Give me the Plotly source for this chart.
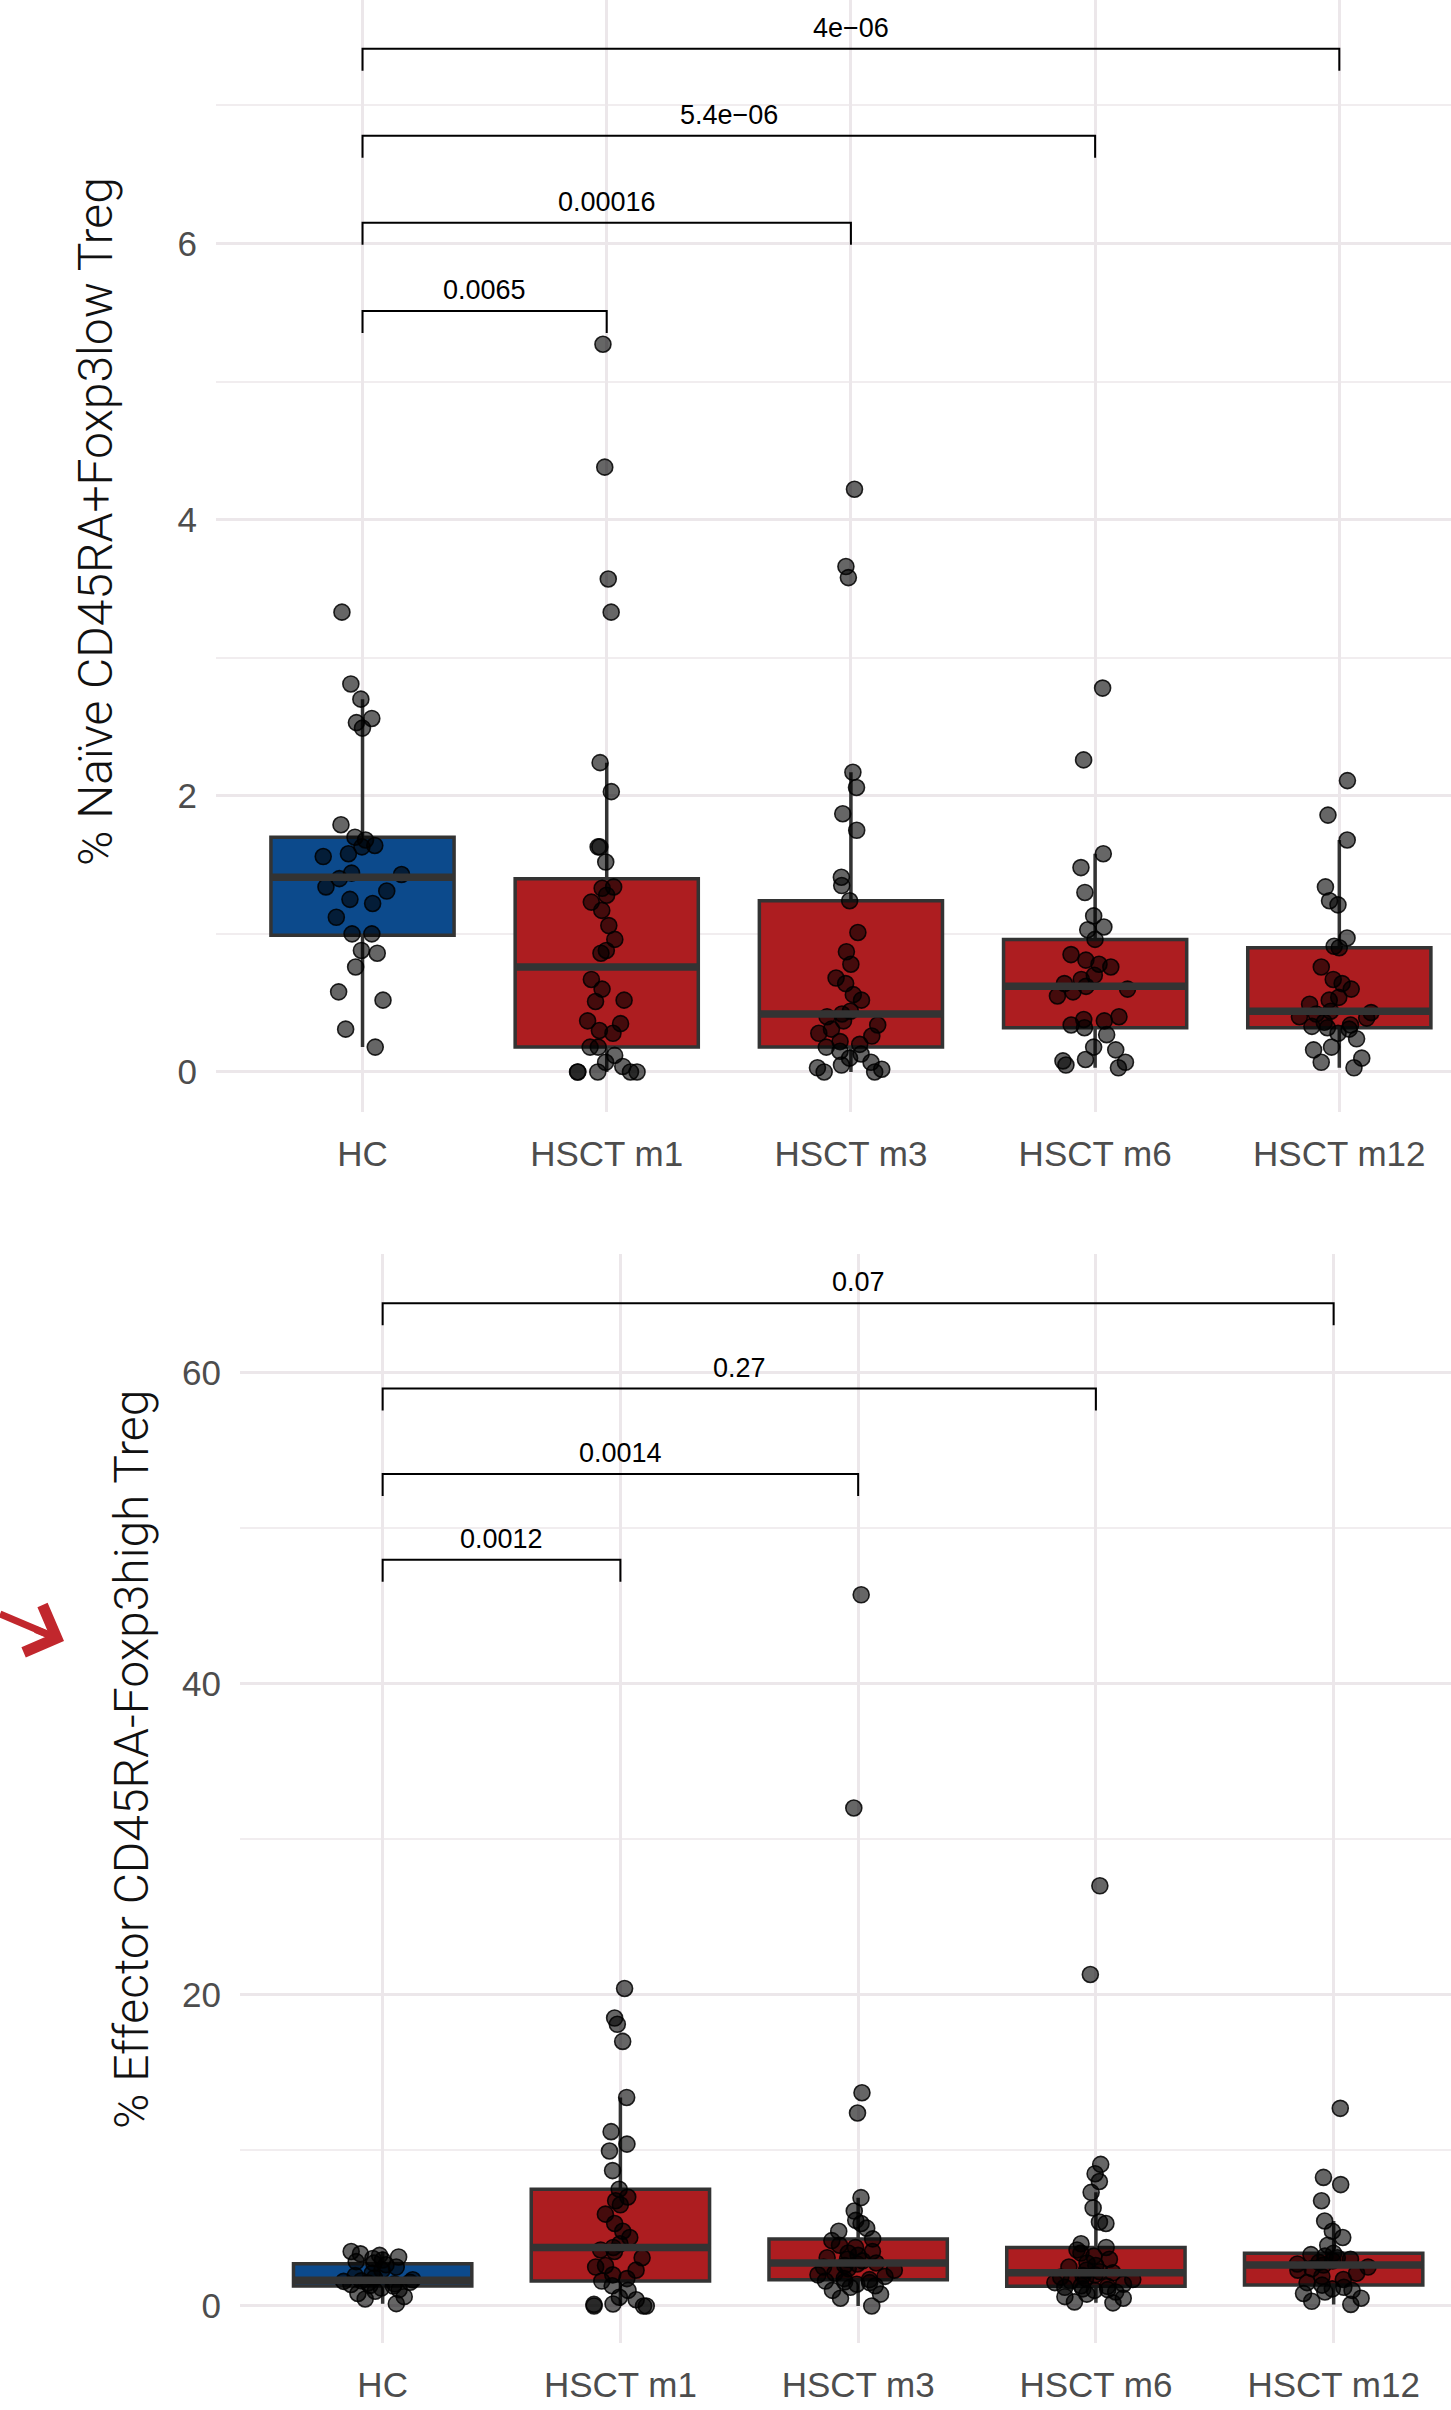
import plotly.graph_objects as go

categories = ["HC", "HSCT m1", "HSCT m3", "HSCT m6", "HSCT m12"]
group_colors = ["#0C4A8C", "#AD1D20", "#AD1D20", "#AD1D20", "#AD1D20"]

# ---------- Panel A: % Naive CD45RA+Foxp3low Treg ----------
naive_hc = [3.33, 2.81, 2.70, 2.56, 2.53, 2.49, 1.79, 1.70, 1.68, 1.64, 1.63, 1.58, 1.56, 1.44, 1.43,
            1.40, 1.34, 1.31, 1.25, 1.22, 1.12, 1.00, 1.00, 0.88, 0.86, 0.76, 0.58, 0.52, 0.31, 0.18]
naive_m1 = [5.27, 4.38, 3.57, 3.33, 2.24, 2.03, 1.63, 1.63, 1.52, 1.34, 1.33, 1.28, 1.23, 1.17, 1.06,
            0.96, 0.88, 0.86, 0.67, 0.60, 0.52, 0.51, 0.37, 0.35, 0.30, 0.28, 0.18, 0.18, 0.12, 0.07,
            0.04, 0.0, 0.0, 0.0, 0.0, 0.0]
naive_m3 = [4.22, 3.66, 3.58, 2.17, 2.06, 1.87, 1.75, 1.41, 1.35, 1.24, 1.01, 0.87, 0.78, 0.68, 0.64,
            0.56, 0.52, 0.44, 0.42, 0.40, 0.37, 0.34, 0.31, 0.28, 0.26, 0.22, 0.20, 0.18, 0.15, 0.13,
            0.10, 0.07, 0.05, 0.03, 0.02, 0.0, 0.0]
naive_m6 = [2.78, 2.26, 1.58, 1.48, 1.30, 1.13, 1.05, 1.03, 0.96, 0.85, 0.81, 0.78, 0.76, 0.70, 0.67,
            0.64, 0.62, 0.60, 0.58, 0.55, 0.40, 0.38, 0.37, 0.34, 0.32, 0.27, 0.18, 0.16, 0.09, 0.08,
            0.07, 0.05, 0.03]
naive_m12 = [2.11, 1.86, 1.68, 1.34, 1.24, 1.21, 0.97, 0.91, 0.90, 0.76, 0.67, 0.64, 0.60, 0.54, 0.52,
             0.49, 0.44, 0.43, 0.42, 0.40, 0.39, 0.36, 0.34, 0.33, 0.32, 0.31, 0.28, 0.24, 0.18, 0.16,
             0.10, 0.07, 0.03]
naive_values = [naive_hc, naive_m1, naive_m3, naive_m6, naive_m12]

naive_q1 = [0.99, 0.18, 0.18, 0.32, 0.32]
naive_median = [1.41, 0.76, 0.42, 0.62, 0.44]
naive_q3 = [1.70, 1.40, 1.24, 0.96, 0.90]
naive_lower = [0.18, 0.0, 0.0, 0.03, 0.03]
naive_upper = [2.70, 2.24, 2.17, 1.58, 1.68]

naive_pairs = [(1, 2), (1, 3), (1, 4), (1, 5)]
naive_pvals = ["0.0065", "0.00016", "5.4e\u221206", "4e\u221206"]
naive_bracket_y = [5.51, 6.15, 6.78, 7.41]

# ---------- Panel B: % Effector CD45RA-Foxp3high Treg ----------
eff_hc = [0.15, 0.45, 0.6, 0.8, 0.95, 1.05, 1.15, 1.28, 1.32, 1.38, 1.42, 1.48, 1.52, 1.58, 1.62,
          1.68, 1.80, 1.95, 2.1, 2.3, 2.5, 2.65, 2.75, 2.85, 2.95, 3.05, 3.15, 3.25, 3.35, 3.5]
eff_m1 = [20.4, 18.5, 18.1, 17.0, 13.4, 11.2, 10.4, 9.96, 8.7, 7.5, 7.0, 6.76, 6.5, 5.9, 5.3, 4.8,
          4.4, 4.0, 3.76, 3.6, 3.5, 3.1, 2.6, 2.5, 2.3, 2.0, 1.76, 1.6, 1.3, 1.0, 0.56, 0.4, 0.13,
          0.1, 0.0, 0.0, 0.0]
eff_m3 = [45.7, 32.0, 13.7, 12.4, 6.96, 6.1, 5.5, 5.3, 5.0, 4.8, 4.31, 4.2, 3.9, 3.76, 3.5, 3.4,
          3.25, 3.1, 3.0, 2.9, 2.76, 2.7, 2.6, 2.5, 2.4, 2.3, 2.1, 2.0, 1.9, 1.76, 1.69, 1.6, 1.55,
          1.5, 1.4, 1.3, 1.2, 1.0, 0.76, 0.5, 0.0]
eff_m6 = [27.0, 21.3, 9.1, 8.5, 8.0, 7.3, 6.3, 5.4, 5.3, 4.0, 3.76, 3.6, 3.4, 3.2, 3.0, 2.76, 2.6,
          2.5, 2.3, 2.2, 2.13, 2.0, 1.95, 1.85, 1.76, 1.7, 1.6, 1.5, 1.4, 1.3, 1.26, 1.2, 1.1, 1.05,
          1.0, 0.9, 0.76, 0.6, 0.5, 0.26, 0.2]
eff_m12 = [12.7, 8.26, 7.8, 6.76, 5.46, 4.8, 4.4, 3.9, 3.39, 3.3, 3.2, 3.1, 3.0, 2.9, 2.8, 2.7,
           2.63, 2.5, 2.4, 2.3, 2.1, 1.9, 1.7, 1.5, 1.34, 1.2, 1.1, 1.0, 0.9, 0.8, 0.5, 0.3, 0.1]
eff_values = [eff_hc, eff_m1, eff_m3, eff_m6, eff_m12]

eff_q1 = [1.29, 1.60, 1.69, 1.26, 1.34]
eff_median = [1.65, 3.76, 2.76, 2.13, 2.63]
eff_q3 = [2.72, 7.50, 4.31, 3.76, 3.39]
eff_lower = [0.15, 0.0, 0.0, 0.2, 0.1]
eff_upper = [3.5, 13.4, 6.96, 7.3, 5.46]

eff_pairs = [(1, 2), (1, 3), (1, 4), (1, 5)]
eff_pvals = ["0.0012", "0.0014", "0.27", "0.07"]
eff_bracket_y = [47.96, 53.47, 58.95, 64.44]

# ---------- figure geometry / style ----------
W, H = 1451, 2410
BOX_W = 0.75
GRID = "#ECE7EA"
GRID_MINOR = "#F1EDEF"
ARROW_RED = "#C1272D"
TICK_FONT = dict(family="Liberation Sans, Arial, sans-serif", size=35, color="#4D4D4D")
ANN_FONT = dict(family="Liberation Sans, Arial, sans-serif", size=27, color="black")
TITLE_FONT = dict(family="Roboto, Lato, sans-serif", size=48, color="#111111", weight=300)

panels = [
    dict(xa="x", ya="y", values=naive_values, q1=naive_q1, med=naive_median, q3=naive_q3,
         lo=naive_lower, hi=naive_upper, pairs=naive_pairs, pvals=naive_pvals, by=naive_bracket_y,
         yrange=[-0.29, 7.763], ypix=1112, title="% Naïve CD45RA+Foxp3low Treg",
         title_xy=(95, 522)),
    dict(xa="x2", ya="y2", values=eff_values, q1=eff_q1, med=eff_median, q3=eff_q3,
         lo=eff_lower, hi=eff_upper, pairs=eff_pairs, pvals=eff_pvals, by=eff_bracket_y,
         yrange=[-2.38, 67.6], ypix=1089, title="% Effector CD45RA-Foxp3high Treg",
         title_xy=(131, 1760)),
]

fig = go.Figure()
annotations = []

for p in panels:
    positions = list(range(1, len(categories) + 1))
    # boxes (statistics)
    for i, pos in enumerate(positions):
        fig.add_trace(go.Box(
            x=[pos], q1=[p["q1"][i]], median=[p["med"][i]], q3=[p["q3"][i]],
            lowerfence=[p["lo"][i]], upperfence=[p["hi"][i]],
            fillcolor=group_colors[i], line=dict(color="#333333", width=3.5),
            whiskerwidth=0, width=BOX_W, xaxis=p["xa"], yaxis=p["ya"],
            showlegend=False, hoverinfo="skip"))
        # thick median bar
        fig.add_trace(go.Scatter(
            x=[pos - BOX_W / 2, pos + BOX_W / 2], y=[p["med"][i], p["med"][i]],
            mode="lines", line=dict(color="#333333", width=7.5),
            xaxis=p["xa"], yaxis=p["ya"], showlegend=False, hoverinfo="skip"))
    # jittered sample points
    for i, pos in enumerate(positions):
        vals = p["values"][i]
        fig.add_trace(go.Box(
            x=[pos] * len(vals), y=vals, boxpoints="all", jitter=0.5, pointpos=0,
            fillcolor="rgba(0,0,0,0)", line=dict(color="rgba(0,0,0,0)", width=0),
            whiskerwidth=0, width=BOX_W,
            marker=dict(size=16, color="rgba(0,0,0,0.6)",
                        line=dict(color="rgba(0,0,0,0.85)", width=1.6)),
            xaxis=p["xa"], yaxis=p["ya"], showlegend=False, hoverinfo="skip"))
    # significance brackets
    span = p["yrange"][1] - p["yrange"][0]
    tip = 22 / p["ypix"] * span
    for (a, b), lab, yb in zip(p["pairs"], p["pvals"], p["by"]):
        fig.add_trace(go.Scatter(
            x=[a, a, b, b], y=[yb - tip, yb, yb, yb - tip], mode="lines",
            line=dict(color="black", width=2), xaxis=p["xa"], yaxis=p["ya"],
            showlegend=False, hoverinfo="skip"))
        annotations.append(dict(
            x=(a + b) / 2, y=yb, xref=p["xa"], yref=p["ya"], text=lab, showarrow=False,
            xanchor="center", yanchor="middle", yshift=21, font=ANN_FONT))
    tx, ty = p["title_xy"]
    annotations.append(dict(
        x=tx / W, y=1 - ty / H, xref="paper", yref="paper", text=p["title"], showarrow=False,
        textangle=-90, xanchor="center", yanchor="middle", font=TITLE_FONT))

# red arrow pointing at the second y-axis title: head via annotation, shaft via shape
annotations.append(dict(
    x=64 / W, y=1 - 1641 / H, xref="paper", yref="paper", ax=-30, ay=-12, axref="pixel",
    ayref="pixel", showarrow=True, arrowhead=4, arrowsize=1.4, arrowwidth=7,
    arrowcolor=ARROW_RED, text=""))
shapes = [dict(type="line", xref="paper", yref="paper",
               x0=0, y0=1 - 1614 / H, x1=52 / W, y1=1 - 1636 / H,
               line=dict(color=ARROW_RED, width=7))]

common_x = dict(tickmode="array", tickvals=list(range(1, 6)), ticktext=categories,
                showgrid=True, gridcolor=GRID, gridwidth=2.6, zeroline=False, showline=False,
                ticks="", tickfont=TICK_FONT, fixedrange=True)
common_y = dict(showgrid=True, gridcolor=GRID, gridwidth=2.6, zeroline=False, showline=False,
                ticks="", tickfont=TICK_FONT, ticklabelstandoff=18)

fig.update_layout(
    width=W, height=H, margin=dict(l=0, r=0, t=0, b=0, pad=0),
    paper_bgcolor="white", plot_bgcolor="white", boxmode="overlay", showlegend=False,
    annotations=annotations, shapes=shapes,
    xaxis=dict(common_x, domain=[216 / W, 1], range=[0.4, 0.4 + (W - 216) / 244.2],
               anchor="y", ticklabelstandoff=18),
    yaxis=dict(common_y, domain=[1 - 1112 / H, 1], range=panels[0]["yrange"],
               tickvals=[0, 2, 4, 6], anchor="x",
               minor=dict(tickvals=[1, 3, 5, 7], showgrid=True, gridcolor=GRID_MINOR,
                          gridwidth=1.8, ticks="")),
    xaxis2=dict(common_x, domain=[240 / W, 1], range=[0.4, 0.4 + (W - 240) / 237.75],
                anchor="y2", ticklabelstandoff=18),
    yaxis2=dict(common_y, domain=[1 - 2343 / H, 1 - 1254 / H], range=panels[1]["yrange"],
                tickvals=[0, 20, 40, 60], anchor="x2",
                minor=dict(tickvals=[10, 30, 50], showgrid=True, gridcolor=GRID_MINOR,
                           gridwidth=1.8, ticks="")),
)

fig.write_html("out.html")
